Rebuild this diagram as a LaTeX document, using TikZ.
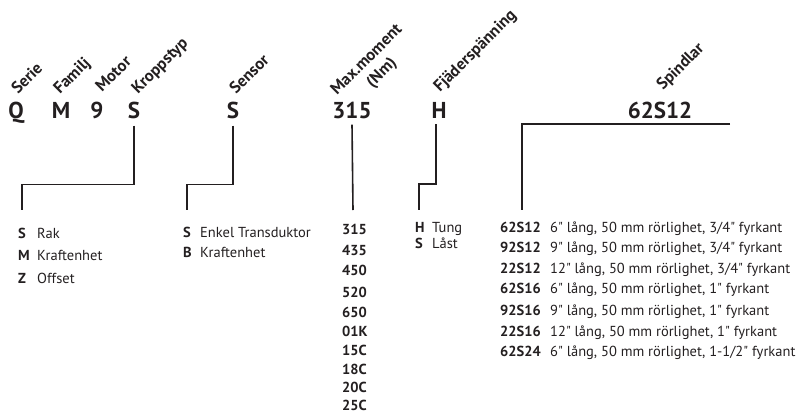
\documentclass[tikz,border=0pt]{standalone}
\usepackage{fontspec}
\setmainfont{PT Sans}[Ligatures=TeXOff]
\definecolor{CodeInk}{RGB}{35,31,32}

\tikzset{
  code/.style={font=\fontsize{23}{23}\selectfont\bfseries, text=CodeInk, inner sep=0pt, anchor=base},
  field/.style={font=\fontsize{16.5}{17}\selectfont\bfseries, text=CodeInk, inner sep=0pt, rotate=45, anchor=base west},
  item/.style={font=\fontsize{14.5}{14.5}\selectfont, text=CodeInk, inner sep=0pt, anchor=base west},
  value/.style={item, font=\fontsize{14.5}{14.5}\selectfont\bfseries},
  conn/.style={line width=1.6pt, CodeInk},
}

\begin{document}
\begin{tikzpicture}[x=1pt, y=-1pt]
        \useasboundingbox (0,0) rectangle (811,413);

        % Field names
        \node[field] (lSerie) at (18,95) {Serie};
        \node[field] (lFamilj) at (60,95) {Familj};
        \node[field] (lMotor) at (102,93) {Motor};
        \node[field] (lKropp) at (138,95) {Kroppstyp};
        \node[field] (lSensor) at (236,95) {Sensor};
        \node[field] (lMoment) at (337,96) {Max.moment};
        \node[field, anchor=base] (lNm) at ([shift={(15,13)}]lMoment.base) {(Nm)};
        \node[field] (lFjader) at (440,93) {Fjäderspänning};
        \node[field] (lSpindel) at (663,91) {Spindlar};

        % Code
        \node[code] (cQ) at (16,118) {Q};
        \node[code] (cM) at (61,118) {M};
        \node[code] (c9) at (97,118) {9};
        \node[code] (cKropp) at (134,118) {S};
        \node[code] (cSensor) at (233,118) {S};
        \node[code] (cMoment) at (352,118) {315};
        \node[code] (cFjader) at (439,118) {H};
        \node[code] (cSpindel) at (660,118) {62S12};

        % Connectors
        \coordinate (eKropp) at (22,210);
        \coordinate (eSensor) at (187,210);
        \coordinate (eMoment) at (353,210);
        \coordinate (eFjader) at (419,210);
        \coordinate (sSpindel) at (730,124);
        \coordinate (eSpindel) at (522,210);
        \draw[conn] ([yshift=-7pt]cKropp.south) -- ++(0,59) -| (eKropp);
        \draw[conn] ([yshift=-7pt]cSensor.south) -- ++(0,59) -| (eSensor);
        \draw[conn] ([yshift=-6pt]cMoment.south) -- (eMoment);
        \draw[conn] ([xshift=-3pt,yshift=-6pt]cFjader.south) -- ++(0,60) -| (eFjader);
        \draw[conn] (sSpindel) -| (eSpindel);

        % Kroppstyp
        \node[item] (k1) at (18,238) {\makebox[19pt][l]{\bfseries S}Rak};
        \node[item] (k2) at (18,260.5) {\makebox[19pt][l]{\bfseries M}Kraftenhet};
        \node[item] (k3) at (18,283) {\makebox[19pt][l]{\bfseries Z}Offset};

        % Sensor
        \node[item] (s1) at (183,237) {\makebox[17pt][l]{\bfseries S}Enkel Transduktor};
        \node[item] (s2) at (183,257) {\makebox[17pt][l]{\bfseries B}Kraftenhet};

        % Max.moment
        \node[value] (m1) at (342,234) {315};
        \node[value] (m2) at (342,255) {435};
        \node[value] (m3) at (342,275) {450};
        \node[value] (m4) at (342,297) {520};
        \node[value] (m5) at (342,317) {650};
        \node[value] (m6) at (342,336) {01K};
        \node[value] (m7) at (342,355) {15C};
        \node[value] (m8) at (342,374) {18C};
        \node[value] (m9) at (342,392.5) {20C};
        \node[value] (m10) at (342,410.5) {25C};

        % Fjaderspanning
        \node[item] (f1) at (415,232) {\makebox[17pt][l]{\bfseries H}Tung};
        \node[item] (f2) at (415,248) {\makebox[17pt][l]{\bfseries S}Låst};

        % Spindlar
        \node[item] (p1) at (500,232) {\makebox[50pt][l]{\bfseries 62S12}6" lång, 50 mm rörlighet, 3/4" fyrkant};
        \node[item] (p2) at (500,252) {\makebox[50pt][l]{\bfseries 92S12}9" lång, 50 mm rörlighet, 3/4" fyrkant};
        \node[item] (p3) at (500,273) {\makebox[50pt][l]{\bfseries 22S12}12" lång, 50 mm rörlighet, 3/4" fyrkant};
        \node[item] (p4) at (500,293) {\makebox[50pt][l]{\bfseries 62S16}6" lång, 50 mm rörlighet, 1" fyrkant};
        \node[item] (p5) at (500,315) {\makebox[50pt][l]{\bfseries 92S16}9" lång, 50 mm rörlighet, 1" fyrkant};
        \node[item] (p6) at (500,336) {\makebox[50pt][l]{\bfseries 22S16}12" lång, 50 mm rörlighet, 1" fyrkant};
        \node[item] (p7) at (500,356) {\makebox[50pt][l]{\bfseries 62S24}6" lång, 50 mm rörlighet, 1-1/2" fyrkant};
\end{tikzpicture}
\end{document}
